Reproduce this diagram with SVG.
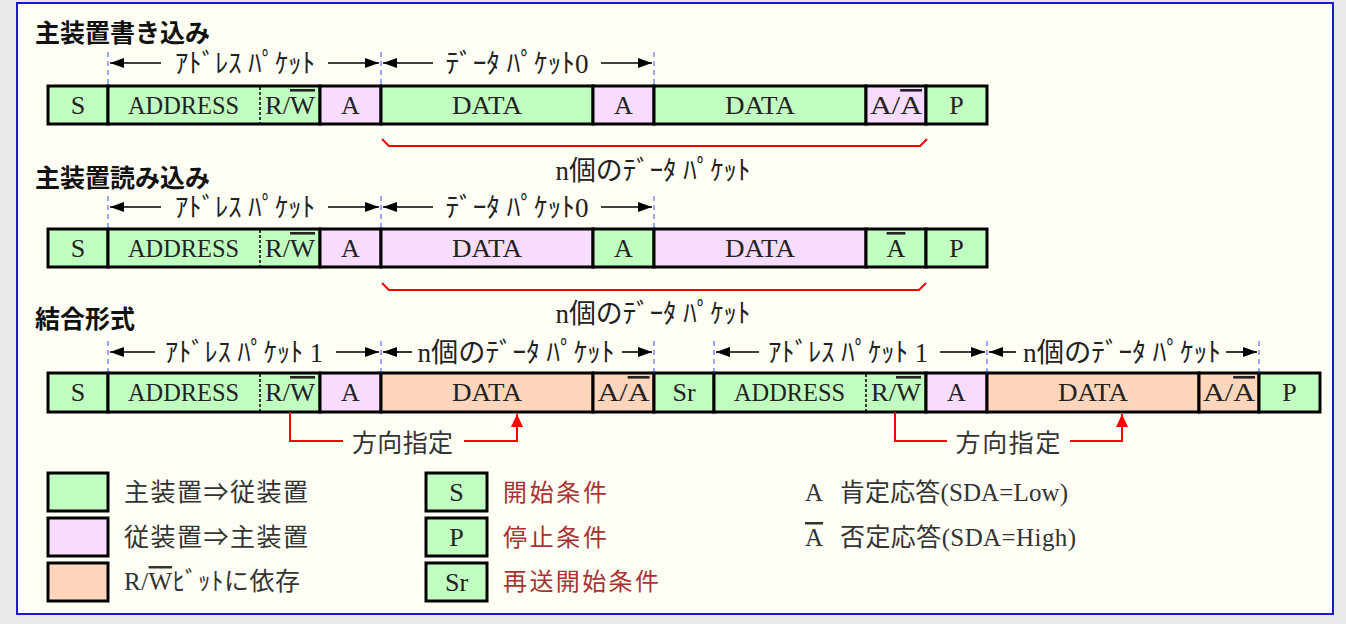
<svg xmlns="http://www.w3.org/2000/svg" width="1346" height="624" viewBox="0 0 1346 624">
<defs>
<style>
.g{fill:#c0ffc0;stroke:#000;stroke-width:3}
.p{fill:#f8dcff;stroke:#000;stroke-width:3}
.o{fill:#ffd6bc;stroke:#000;stroke-width:3}
.ct{font-family:"Liberation Serif","Noto Sans CJK JP",serif;font-size:26px;fill:#222;text-anchor:middle}
.ann{font-family:"Liberation Serif","Noto Sans CJK JP",serif;font-size:27px;fill:#222;text-anchor:middle}
.ttl{font-family:"Noto Sans CJK JP",sans-serif;font-weight:bold;font-size:25px;fill:#111}
.lg{font-family:"Liberation Serif","Noto Sans CJK JP",serif;font-size:25px;fill:#333}
.dir{font-family:"Noto Sans CJK JP",sans-serif;font-size:25px;fill:#333;text-anchor:middle}
.lr{font-family:"Noto Sans CJK JP",sans-serif;font-size:24px;fill:#a83232}
.ol{text-decoration:overline}
.dash{stroke:#000;stroke-width:1.5;stroke-dasharray:3 2}
.bd{stroke:#3355ff;stroke-width:1;stroke-dasharray:5 4}
.ar{stroke:#000;stroke-width:1.6;fill:none;marker-end:url(#ah)}
.red{stroke:#ff0000;stroke-width:2;fill:none}
</style>
<marker id="ah" markerWidth="14" markerHeight="10" refX="14" refY="5" orient="auto" markerUnits="userSpaceOnUse">
<path d="M0,0 L14,5 L0,10 Z" fill="#000"/>
</marker>
<marker id="rh" markerWidth="14" markerHeight="12" refX="13" refY="6" orient="auto" markerUnits="userSpaceOnUse">
<path d="M0,0 L13,6 L0,12 Z" fill="#ff0000"/>
</marker>
</defs>
<rect x="0" y="0" width="1346" height="624" fill="#e9e9e9"/>
<rect x="17" y="3" width="1316" height="611" fill="#fffff6" stroke="#1a1ac8" stroke-width="2"/>

<g id="titles">
<text class="ttl" x="35" y="42">主装置書き込み</text>
<text class="ttl" x="35" y="187">主装置読み込み</text>
<text class="ttl" x="35" y="328">結合形式</text>
</g>

<!-- Row 1 -->
<g id="row1">
<g id="r1-s"><rect class="g" x="48" y="86" width="60" height="38"/><text class="ct" x="78" y="114">S</text></g>
<g id="r1-addr"><rect class="g" x="108" y="86" width="212" height="38"/><line class="dash" x1="260" y1="87" x2="260" y2="123"/><text class="ct" x="183.5" y="114" textLength="111" lengthAdjust="spacingAndGlyphs">ADDRESS</text><text class="ct" x="290" y="114" textLength="50" lengthAdjust="spacingAndGlyphs">R/<tspan class="ol">W</tspan></text></g>
<g id="r1-a1"><rect class="p" x="320" y="86" width="61" height="38"/><text class="ct" x="350.5" y="114">A</text></g>
<g id="r1-d1"><rect class="g" x="381" y="86" width="212" height="38"/><text class="ct" x="487" y="114" textLength="70" lengthAdjust="spacingAndGlyphs">DATA</text></g>
<g id="r1-a2"><rect class="p" x="593" y="86" width="61" height="38"/><text class="ct" x="623.5" y="114">A</text></g>
<g id="r1-d2"><rect class="g" x="654" y="86" width="212" height="38"/><text class="ct" x="760" y="114" textLength="70" lengthAdjust="spacingAndGlyphs">DATA</text></g>
<g id="r1-a3"><rect class="p" x="866" y="86" width="60" height="38"/><text class="ct" x="896" y="114" textLength="52" lengthAdjust="spacingAndGlyphs">A/<tspan class="ol">A</tspan></text></g>
<g id="r1-p"><rect class="g" x="926" y="86" width="61" height="38"/><text class="ct" x="956.5" y="114">P</text></g>
</g>

<!-- Row 2 -->
<g id="row2">
<g id="r2-s"><rect class="g" x="48" y="229" width="60" height="38"/><text class="ct" x="78" y="257">S</text></g>
<g id="r2-addr"><rect class="g" x="108" y="229" width="212" height="38"/><line class="dash" x1="260" y1="230" x2="260" y2="266"/><text class="ct" x="183.5" y="257" textLength="111" lengthAdjust="spacingAndGlyphs">ADDRESS</text><text class="ct" x="290" y="257" textLength="50" lengthAdjust="spacingAndGlyphs">R/<tspan class="ol">W</tspan></text></g>
<g id="r2-a1"><rect class="p" x="320" y="229" width="61" height="38"/><text class="ct" x="350.5" y="257">A</text></g>
<g id="r2-d1"><rect class="p" x="381" y="229" width="212" height="38"/><text class="ct" x="487" y="257" textLength="70" lengthAdjust="spacingAndGlyphs">DATA</text></g>
<g id="r2-a2"><rect class="g" x="593" y="229" width="61" height="38"/><text class="ct" x="623.5" y="257">A</text></g>
<g id="r2-d2"><rect class="p" x="654" y="229" width="212" height="38"/><text class="ct" x="760" y="257" textLength="70" lengthAdjust="spacingAndGlyphs">DATA</text></g>
<g id="r2-a3"><rect class="g" x="866" y="229" width="60" height="38"/><text class="ct" x="896" y="257"><tspan class="ol">A</tspan></text></g>
<g id="r2-p"><rect class="g" x="926" y="229" width="61" height="38"/><text class="ct" x="956.5" y="257">P</text></g>
</g>

<!-- Row 3 -->
<g id="row3">
<g id="r3-s"><rect class="g" x="48" y="373" width="60" height="39"/><text class="ct" x="78" y="401">S</text></g>
<g id="r3-addr1"><rect class="g" x="108" y="373" width="212" height="39"/><line class="dash" x1="260" y1="374" x2="260" y2="411"/><text class="ct" x="183.5" y="401" textLength="111" lengthAdjust="spacingAndGlyphs">ADDRESS</text><text class="ct" x="290" y="401" textLength="50" lengthAdjust="spacingAndGlyphs">R/<tspan class="ol">W</tspan></text></g>
<g id="r3-a1"><rect class="p" x="320" y="373" width="61" height="39"/><text class="ct" x="350.5" y="401">A</text></g>
<g id="r3-d1"><rect class="o" x="381" y="373" width="212" height="39"/><text class="ct" x="487" y="401" textLength="70" lengthAdjust="spacingAndGlyphs">DATA</text></g>
<g id="r3-a2"><rect class="o" x="593" y="373" width="61" height="39"/><text class="ct" x="623.5" y="401" textLength="52" lengthAdjust="spacingAndGlyphs">A/<tspan class="ol">A</tspan></text></g>
<g id="r3-sr"><rect class="g" x="654" y="373" width="60" height="39"/><text class="ct" x="684" y="401">Sr</text></g>
<g id="r3-addr2"><rect class="g" x="714" y="373" width="212" height="39"/><line class="dash" x1="866" y1="374" x2="866" y2="411"/><text class="ct" x="789.5" y="401" textLength="111" lengthAdjust="spacingAndGlyphs">ADDRESS</text><text class="ct" x="896" y="401" textLength="50" lengthAdjust="spacingAndGlyphs">R/<tspan class="ol">W</tspan></text></g>
<g id="r3-a3"><rect class="p" x="926" y="373" width="61" height="39"/><text class="ct" x="956.5" y="401">A</text></g>
<g id="r3-d2"><rect class="o" x="987" y="373" width="212" height="39"/><text class="ct" x="1093" y="401" textLength="70" lengthAdjust="spacingAndGlyphs">DATA</text></g>
<g id="r3-a4"><rect class="o" x="1199" y="373" width="60" height="39"/><text class="ct" x="1229" y="401" textLength="52" lengthAdjust="spacingAndGlyphs">A/<tspan class="ol">A</tspan></text></g>
<g id="r3-p"><rect class="g" x="1259" y="373" width="61" height="39"/><text class="ct" x="1289.5" y="401">P</text></g>
</g>

<!-- annotations -->
<g id="labels">
<text class="ann" x="245" y="73" textLength="140" lengthAdjust="spacingAndGlyphs">ｱﾄﾞﾚｽ ﾊﾟｹｯﾄ</text>
<text class="ann" x="517" y="73" textLength="143" lengthAdjust="spacingAndGlyphs">ﾃﾞｰﾀ ﾊﾟｹｯﾄ0</text>
<text class="ann" x="653" y="180" textLength="195" lengthAdjust="spacingAndGlyphs">n個のﾃﾞｰﾀ ﾊﾟｹｯﾄ</text>
<text class="ann" x="245" y="217" textLength="140" lengthAdjust="spacingAndGlyphs">ｱﾄﾞﾚｽ ﾊﾟｹｯﾄ</text>
<text class="ann" x="517" y="217" textLength="143" lengthAdjust="spacingAndGlyphs">ﾃﾞｰﾀ ﾊﾟｹｯﾄ0</text>
<text class="ann" x="653" y="323" textLength="195" lengthAdjust="spacingAndGlyphs">n個のﾃﾞｰﾀ ﾊﾟｹｯﾄ</text>
<text class="ann" x="244" y="362" textLength="158" lengthAdjust="spacingAndGlyphs">ｱﾄﾞﾚｽ ﾊﾟｹｯﾄ 1</text>
<text class="ann" x="516" y="362" textLength="197" lengthAdjust="spacingAndGlyphs">n個のﾃﾞｰﾀ ﾊﾟｹｯﾄ</text>
<text class="ann" x="848" y="362" textLength="160" lengthAdjust="spacingAndGlyphs">ｱﾄﾞﾚｽ ﾊﾟｹｯﾄ 1</text>
<text class="ann" x="1122" y="362" textLength="198" lengthAdjust="spacingAndGlyphs">n個のﾃﾞｰﾀ ﾊﾟｹｯﾄ</text>
<text class="dir" x="402.5" y="452" textLength="101">方向指定</text>
<text class="dir" x="1008" y="452" textLength="105">方向指定</text>
</g>

<g id="connectors">
<line class="bd" x1="108" y1="52" x2="108" y2="86"/>
<line class="bd" x1="381" y1="52" x2="381" y2="86"/>
<line class="bd" x1="654" y1="52" x2="654" y2="86"/>
<line class="bd" x1="108" y1="196" x2="108" y2="229"/>
<line class="bd" x1="381" y1="196" x2="381" y2="229"/>
<line class="bd" x1="654" y1="196" x2="654" y2="229"/>
<line class="bd" x1="108" y1="341" x2="108" y2="373"/>
<line class="bd" x1="381" y1="341" x2="381" y2="373"/>
<line class="bd" x1="654" y1="341" x2="654" y2="373"/>
<line class="bd" x1="714" y1="341" x2="714" y2="373"/>
<line class="bd" x1="987" y1="341" x2="987" y2="373"/>
<line class="bd" x1="1259" y1="341" x2="1259" y2="373"/>
<line class="ar" x1="161" y1="63" x2="110" y2="63"/>
<line class="ar" x1="328" y1="63" x2="379" y2="63"/>
<line class="ar" x1="433" y1="63" x2="383" y2="63"/>
<line class="ar" x1="601" y1="63" x2="652" y2="63"/>
<line class="ar" x1="161" y1="207" x2="110" y2="207"/>
<line class="ar" x1="328" y1="207" x2="379" y2="207"/>
<line class="ar" x1="433" y1="207" x2="383" y2="207"/>
<line class="ar" x1="601" y1="207" x2="652" y2="207"/>
<line class="ar" x1="155" y1="352" x2="110" y2="352"/>
<line class="ar" x1="336" y1="352" x2="379" y2="352"/>
<line class="ar" x1="412" y1="352" x2="383" y2="352"/>
<line class="ar" x1="622" y1="352" x2="652" y2="352"/>
<line class="ar" x1="759" y1="352" x2="716" y2="352"/>
<line class="ar" x1="940" y1="352" x2="985" y2="352"/>
<line class="ar" x1="1016" y1="352" x2="989" y2="352"/>
<line class="ar" x1="1226" y1="352" x2="1257" y2="352"/>
<path class="red" d="M382 139 L389 146 H920 L927 139"/>
<path class="red" d="M382 283 L389 290 H919 L926 283"/>
<path class="red" d="M290 412 V441 H343"/>
<path class="red" d="M464 441 H517 V414" marker-end="url(#rh)"/>
<path class="red" d="M895 412 V441 H947"/>
<path class="red" d="M1070 441 H1122 V414" marker-end="url(#rh)"/>
</g>

<g id="legend-m2s"><rect class="g" x="48" y="473" width="60" height="38"/><text class="lg" x="124" y="501" textLength="184">主装置⇒従装置</text></g>
<g id="legend-s2m"><rect class="p" x="48" y="518" width="60" height="38"/><text class="lg" x="124" y="546" textLength="184">従装置⇒主装置</text></g>
<g id="legend-rw"><rect class="o" x="48" y="563" width="60" height="38"/><text class="lg" x="124" y="590" textLength="176">R/<tspan class="ol">W</tspan>ﾋﾞｯﾄに依存</text></g>
<g id="legend-s"><rect class="g" x="426" y="473" width="61" height="38"/><text class="ct" x="456.5" y="501">S</text><text class="lr" x="503" y="501" textLength="104">開始条件</text></g>
<g id="legend-p"><rect class="g" x="426" y="518" width="61" height="38"/><text class="ct" x="456.5" y="546">P</text><text class="lr" x="503" y="546" textLength="104">停止条件</text></g>
<g id="legend-sr"><rect class="g" x="426" y="563" width="61" height="38"/><text class="ct" x="456.5" y="591">Sr</text><text class="lr" x="503" y="590" textLength="156">再送開始条件</text></g>
<g id="legend-ack"><text class="lg" x="805" y="501">A</text><text class="lg" x="840" y="501" textLength="228" lengthAdjust="spacing">肯定応答(SDA=Low)</text></g>
<g id="legend-nack"><text class="lg" x="805" y="546"><tspan class="ol">A</tspan></text><text class="lg" x="840" y="546" textLength="236" lengthAdjust="spacing">否定応答(SDA=High)</text></g>
</svg>
